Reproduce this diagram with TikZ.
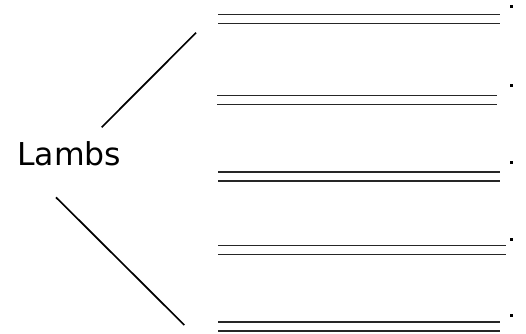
\documentclass[tikz,border=0pt]{standalone}
\usepackage{fontspec}
\setmainfont{DejaVu Sans}
\begin{document}
\begin{tikzpicture}[x=1pt,y=-1pt,blank/.style={draw=black!85,line width=1.4pt},branch/.style={draw,line width=1.7pt},stopdot/.style={rectangle,fill=black,inner sep=0pt,minimum size=3pt}]
    \useasboundingbox (0,0) rectangle (526,333);
    \node[anchor=base west,inner sep=0pt,font=\fontsize{31.5}{36}\selectfont] (lambs) at (17,165) {Lambs};
    % answer blanks, each a pair of rules with a full stop
    \foreach \y/\xa/\xb/\dy [count=\i] in {14.3/218/500/6.7, 95.7/217/497/85, 172/218/500/162.7, 245.7/218/506/239.3, 322/218/500/315} {
        \coordinate (top\i a) at (\xa,\y);
        \coordinate (top\i b) at (\xb,\y);
        \coordinate (bot\i a) at (\xa,\y+9);
        \coordinate (bot\i b) at (\xb,\y+9);
        \draw[blank] (top\i a) -- (top\i b);
        \draw[blank] (bot\i a) -- (bot\i b);
        \node[stopdot] (dot\i) at (511.7,\dy) {};
    }
    \coordinate (up1) at (101.7,127.3);
    \coordinate (up2) at (196,32.7);
    \coordinate (down1) at (56,197.3);
    \coordinate (down2) at (184.3,325);
    \draw[branch] (up1) -- (up2);
    \draw[branch] (down1) -- (down2);
\end{tikzpicture}
\end{document}
